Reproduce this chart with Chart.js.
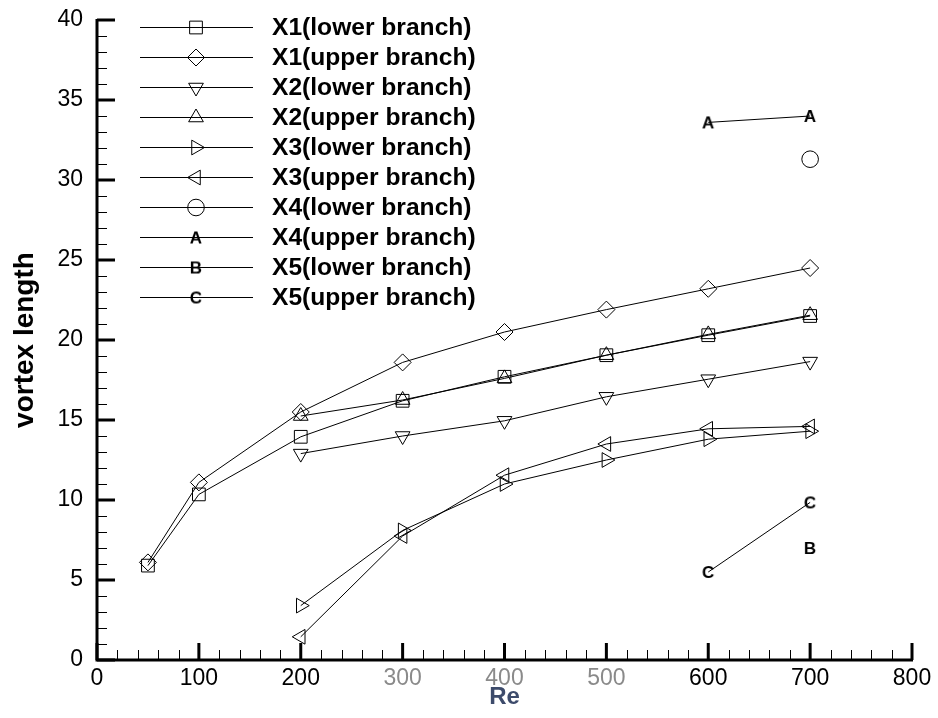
<!DOCTYPE html>
<html><head><meta charset="utf-8">
<script src="https://cdn.jsdelivr.net/npm/chart.js@4/dist/chart.umd.min.js"></script>
<style>html,body{margin:0;padding:0;background:#fff}#wrap{width:938px;height:718px;position:relative}</style>
</head><body><div id="wrap"><canvas id="c" width="938" height="718"></canvas></div>
<script>
// ---- data ----
const reAll = [50, 100, 200, 300, 400, 500, 600, 700];
const reFrom200 = [200, 300, 400, 500, 600, 700];
const re600to700 = [600, 700];
const re700 = [700];

const x1Lower = [5.9, 10.35, 13.95, 16.2, 17.7, 19.05, 20.3, 21.5];
const x1Upper = [6.1, 11.1, 15.5, 18.6, 20.5, 21.9, 23.2, 24.5];
const x2Lower = [12.9, 14.0, 14.95, 16.45, 17.55, 18.65];
const x2Upper = [15.25, 16.25, 17.6, 19.05, 20.35, 21.55];
const x3Lower = [3.4, 8.1, 11.0, 12.5, 13.8, 14.3];
const x3Upper = [1.45, 7.75, 11.55, 13.5, 14.45, 14.6];
const x4Lower = [31.3];
const x4Upper = [33.6, 34.0];
const x5Lower = [7.0];
const x5Upper = [5.5, 9.85];

const seriesLabels = ['X1(lower branch)', 'X1(upper branch)', 'X2(lower branch)', 'X2(upper branch)',
  'X3(lower branch)', 'X3(upper branch)', 'X4(lower branch)', 'X4(upper branch)',
  'X5(lower branch)', 'X5(upper branch)'];
const xTickValues = [0, 100, 200, 300, 400, 500, 600, 700, 800];
const yTickValues = [0, 5, 10, 15, 20, 25, 30, 35, 40];
const greyXTickLabels = [300, 400, 500];
const xTitle = 'Re';
const yTitle = 'vortex length';

// ---- styles ----
const FAM = '"Liberation Sans", Arial, Helvetica, sans-serif';
function letterCanvas(ch) {
  const c = document.createElement('canvas');
  c.width = 24; c.height = 24;
  const g = c.getContext('2d');
  g.font = 'bold 17px ' + FAM;
  g.textAlign = 'center';
  g.textBaseline = 'middle';
  g.fillStyle = '#000';
  g.fillText(ch, 12, 13);
  return c;
}
const letterA = letterCanvas('A'), letterB = letterCanvas('B'), letterC = letterCanvas('C');

function pts(xs, ys) { return xs.map((x, i) => ({x: x, y: ys[i]})); }
const seriesX = [reAll, reAll, reFrom200, reFrom200, reFrom200, reFrom200, re700, re600to700, re700, re600to700];
const seriesY = [x1Lower, x1Upper, x2Lower, x2Upper, x3Lower, x3Upper, x4Lower, x4Upper, x5Lower, x5Upper];
const markerStyles = [
  {s: 'rect', rot: 0, r: 9},
  {s: 'rectRot', rot: 0, r: 8.5},
  {s: 'triangle', rot: 180, r: 8.5},
  {s: 'triangle', rot: 0, r: 8.5},
  {s: 'triangle', rot: 90, r: 8.5},
  {s: 'triangle', rot: -90, r: 8.5},
  {s: 'circle', rot: 0, r: 8.3},
  {s: letterA, rot: 0, r: 8},
  {s: letterB, rot: 0, r: 8},
  {s: letterC, rot: 0, r: 8}
];

const datasets = seriesLabels.map((lab, i) => ({
  label: lab,
  data: pts(seriesX[i], seriesY[i]),
  borderColor: '#000',
  borderWidth: 1,
  backgroundColor: 'rgba(0,0,0,0)',
  fill: false,
  tension: 0,
  pointStyle: markerStyles[i].s,
  pointRotation: markerStyles[i].rot,
  pointRadius: markerStyles[i].r,
  pointHoverRadius: markerStyles[i].r,
  pointBorderWidth: 1,
  pointBorderColor: '#000',
  pointBackgroundColor: 'rgba(0,0,0,0)'
}));

// ---- axes drawn Tecplot-style (inward ticks) ----
const axesPlugin = {
  id: 'tecAxes',
  beforeDatasetsDraw(chart) {
    const ctx = chart.ctx, xs = chart.scales.x, ys = chart.scales.y;
    const a = chart.chartArea;
    ctx.save();
    ctx.strokeStyle = '#000';
    ctx.lineCap = 'butt';
    ctx.lineWidth = 3;
    ctx.beginPath();
    ctx.moveTo(a.left, a.top - 1);
    ctx.lineTo(a.left, a.bottom + 1.5);
    ctx.moveTo(a.left - 1.5, a.bottom);
    ctx.lineTo(a.right + 1, a.bottom);
    ctx.stroke();
    ctx.lineWidth = 1;
    ctx.beginPath();
    for (let v = xs.min; v <= xs.max; v += 20) {
      if (v % 100 === 0) continue;
      const p = Math.round(xs.getPixelForValue(v)) + 0.5;
      ctx.moveTo(p, a.bottom); ctx.lineTo(p, a.bottom - 10);
    }
    for (let v = ys.min; v <= ys.max; v += 1) {
      if (v % 5 === 0) continue;
      const p = Math.round(ys.getPixelForValue(v)) + 0.5;
      ctx.moveTo(a.left, p); ctx.lineTo(a.left + 10, p);
    }
    ctx.stroke();
    ctx.lineWidth = 3;
    ctx.beginPath();
    xTickValues.forEach(v => {
      const p = xs.getPixelForValue(v);
      ctx.moveTo(p, a.bottom); ctx.lineTo(p, a.bottom - 17);
    });
    yTickValues.forEach(v => {
      const p = ys.getPixelForValue(v);
      ctx.moveTo(a.left, p); ctx.lineTo(a.left + 18, p);
    });
    ctx.stroke();
    ctx.restore();
  }
};

// ---- legend in Tecplot layout ----
const legendPlugin = {
  id: 'tecLegend',
  afterDraw(chart) {
    const ctx = chart.ctx;
    const x0 = 140, x1 = 253, xm = 196, xt = 272, y0 = 26.5, dy = 30;
    ctx.save();
    chart.data.datasets.forEach((ds, i) => {
      const y = Math.round(y0 + dy * i) + 0.5;
      ctx.strokeStyle = '#000';
      ctx.lineWidth = 1;
      ctx.beginPath();
      ctx.moveTo(x0, y); ctx.lineTo(x1, y);
      ctx.stroke();
      ctx.fillStyle = 'rgba(0,0,0,0)';
      const opts = {pointStyle: ds.pointStyle, rotation: ds.pointRotation, radius: ds.pointRadius, borderWidth: 1};
      if (Chart.helpers && Chart.helpers.drawPoint) {
        Chart.helpers.drawPoint(ctx, opts, xm, y);
      }
      ctx.fillStyle = '#000';
      ctx.font = 'bold 24.6px ' + FAM;
      ctx.textAlign = 'left';
      ctx.textBaseline = 'middle';
      ctx.fillText(ds.label, xt, y + 1);
    });
    ctx.restore();
  }
};

Chart.defaults.font.family = FAM;
new Chart(document.getElementById('c'), {
  type: 'line',
  data: {datasets: datasets},
  options: {
    responsive: false,
    animation: false,
    devicePixelRatio: 1,
    layout: {padding: {top: 20, right: 26, bottom: 0, left: 0}},
    plugins: {legend: {display: false}, tooltip: {enabled: false}},
    scales: {
      x: {
        type: 'linear', min: 0, max: 800,
        grid: {display: false, drawTicks: false},
        border: {display: false},
        afterBuildTicks: s => { s.ticks = xTickValues.map(v => ({value: v})); },
        afterFit: s => { s.height = 58; },
        ticks: {
          autoSkip: false, maxRotation: 0, padding: 5,
          font: {size: 23, family: FAM},
          color: c => (c.tick && greyXTickLabels.includes(c.tick.value)) ? '#8a8a8a' : '#000'
        },
        title: {display: true, text: xTitle, color: '#3d4b6b', font: {size: 24, weight: 'bold', family: FAM}, padding: {top: 0, bottom: 6}}
      },
      y: {
        type: 'linear', min: 0, max: 40,
        grid: {display: false, drawTicks: false},
        border: {display: false},
        afterBuildTicks: s => { s.ticks = yTickValues.map(v => ({value: v})); },
        afterFit: s => { s.width = 97; s.paddingTop = 0; s.paddingBottom = 0; },
        ticks: {padding: 14, font: {size: 23, family: FAM}, color: '#000'},
        title: {display: true, text: yTitle, color: '#000', font: {size: 28, weight: 'bold', family: FAM}, padding: {top: 8, bottom: 0}}
      }
    }
  },
  plugins: [axesPlugin, legendPlugin]
});
</script>
</body></html>
